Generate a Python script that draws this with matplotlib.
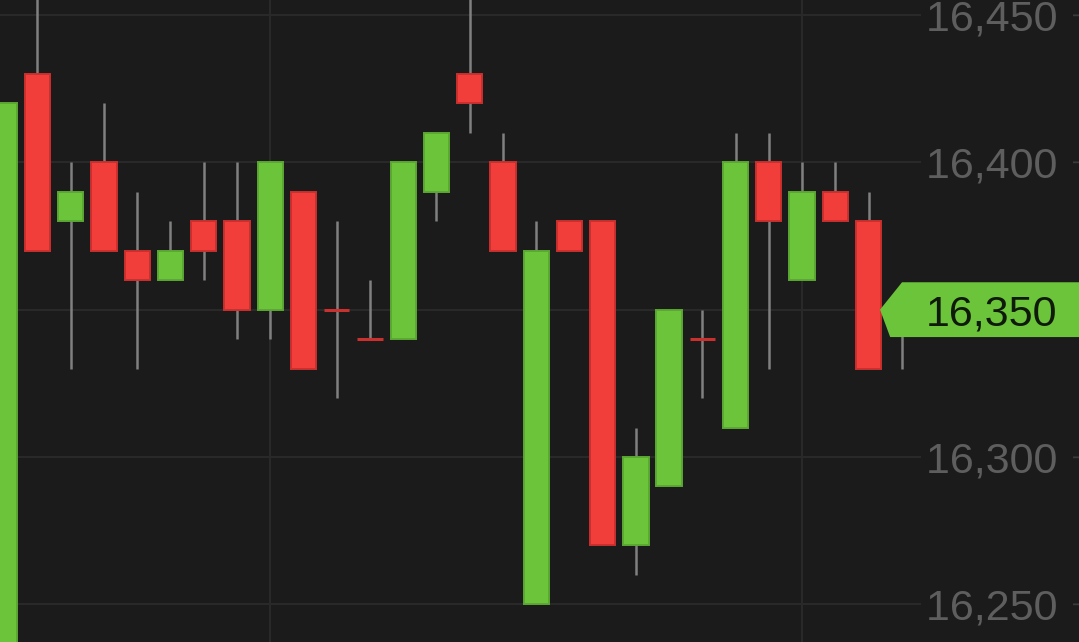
import matplotlib
matplotlib.use("Agg")
import matplotlib.pyplot as plt
import matplotlib.transforms as mtransforms
from matplotlib.patches import Polygon
from matplotlib.ticker import FixedLocator, FuncFormatter
import numpy as np

# OHLC values (one candle per bar, left to right)
opens  = [16200, 16430, 16380, 16400, 16370, 16360, 16380, 16380, 16350, 16390,
          16350, 16340, 16340, 16390, 16430, 16400, 16250, 16380, 16380, 16270,
          16290, 16340, 16310, 16400, 16360, 16390, 16380, 16345]
highs  = [16420, 16460, 16400, 16420, 16390, 16380, 16400, 16400, 16400, 16390,
          16380, 16360, 16400, 16410, 16460, 16410, 16380, 16380, 16380, 16310,
          16350, 16350, 16410, 16410, 16400, 16400, 16390, 16350]
lows   = [16200, 16370, 16330, 16370, 16330, 16360, 16360, 16340, 16340, 16330,
          16320, 16340, 16340, 16380, 16410, 16370, 16250, 16370, 16270, 16260,
          16290, 16320, 16310, 16330, 16360, 16380, 16330, 16330]
closes = [16420, 16370, 16390, 16370, 16360, 16370, 16370, 16350, 16400, 16330,
          16350, 16340, 16400, 16410, 16420, 16370, 16370, 16370, 16270, 16300,
          16350, 16340, 16400, 16380, 16390, 16380, 16330, 16350]

price_ticks = [16250, 16300, 16350, 16400, 16450]
vgrid_at = [8, 24]

BG = "#1c1b1b"
GRID = "#2a2929"
GREEN = "#6cc43a"
GREEN_EDGE = "#5ba832"
RED = "#f23e3b"
RED_EDGE = "#c9302e"
WICK = "#808080"
LABEL = "#5e5e5e"
FONT = "Liberation Sans"
FS = 31

o = np.array(opens, float)
h = np.array(highs, float)
l = np.array(lows, float)
c = np.array(closes, float)
x = np.arange(len(o))
last = c[-1]

fig = plt.figure(figsize=(10.79, 6.42), dpi=100, facecolor=BG)
ax = fig.add_axes([0, 0, 1, 1], facecolor=BG)
ax.set_axisbelow(True)

# wicks
ax.vlines(x, l, h, color=WICK, linewidth=1.8, zorder=1)

up = c > o
down = c < o
flat = c == o
w = 0.76
ax.bar(x[up], (c - o)[up], bottom=o[up], width=w, color=GREEN,
       edgecolor=GREEN_EDGE, linewidth=1.4, zorder=2)
ax.bar(x[down], (o - c)[down], bottom=c[down], width=w, color=RED,
       edgecolor=RED_EDGE, linewidth=1.4, zorder=2)
ax.hlines(c[flat], x[flat] - w / 2, x[flat] + w / 2, color=RED_EDGE,
          linewidth=2.2, zorder=2)

ax.set_xlim(-0.128, 32.33)
ax.set_ylim(16237.2, 16455.1)

for s in ax.spines.values():
    s.set_visible(False)

ax.xaxis.set_major_locator(FixedLocator(vgrid_at))
ax.tick_params(axis="x", length=0, labelbottom=False)
ax.yaxis.set_major_locator(FixedLocator(price_ticks))
# the price tag covers the tick label at the last price
ax.yaxis.set_major_formatter(
    FuncFormatter(lambda v, _: "" if v == last else f"{v:,.0f} "))
ax.yaxis.tick_right()
ax.tick_params(axis="y", direction="in", length=5.8, width=1.0, color="#3a3a3a",
               pad=-7.2, labelsize=FS, labelcolor=LABEL)
ax.grid(True, color=GRID, linewidth=1.5)
for lbl in ax.get_yticklabels():
    lbl.set_horizontalalignment("right")
    lbl.set_fontfamily(FONT)
    lbl.set_bbox(dict(boxstyle="square,pad=0.1", fc=BG, ec="none"))

# last price tag
half = 9.3
trans = mtransforms.blended_transform_factory(ax.transAxes, ax.transData)
tag = Polygon([(0.8156, last), (0.836, last + half), (1.0, last + half),
               (1.0, last - half), (0.825, last - half)],
              closed=True, transform=trans, facecolor=GREEN, edgecolor="none",
              zorder=5, clip_on=False)
ax.add_patch(tag)
ax.text(0.9796, last, f"{last:,.0f}", transform=trans, ha="right",
        va="center_baseline", fontsize=FS, family=FONT, color="#0f1a0a", zorder=6)

fig.savefig("out.png", dpi=100, facecolor=BG)
